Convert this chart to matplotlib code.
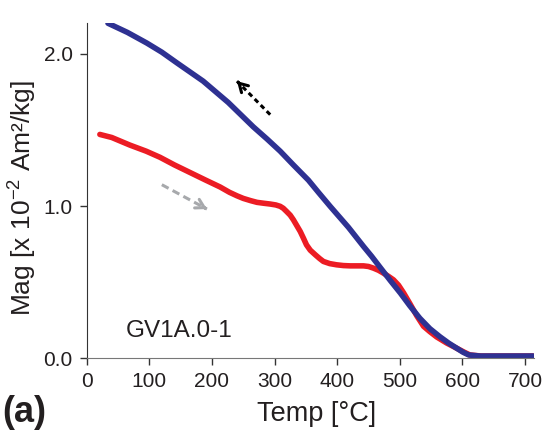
import numpy as np
import matplotlib
matplotlib.use('Agg')
import matplotlib.pyplot as plt

plt.rcParams['font.family'] = ['Liberation Sans', 'DejaVu Sans']
plt.rcParams['mathtext.fontset'] = 'custom'
plt.rcParams['mathtext.rm'] = 'Liberation Sans'
plt.rcParams['mathtext.it'] = 'Liberation Sans'

# heating curve (red)
temp_heat = [21, 40, 69, 95, 117, 140, 165, 190, 213, 228, 240, 250, 262, 272, 283,
             293, 302, 309, 314, 319, 325, 330, 335, 341, 346, 351, 357, 365, 372,
             378, 388, 399, 410, 421, 432, 442, 450, 458, 466, 474, 482, 490, 498,
             506, 516, 527, 538, 548, 559, 575, 591, 603, 612, 630, 660, 690, 713]
mag_heat = [1.47, 1.45, 1.40, 1.36, 1.32, 1.27, 1.22, 1.17, 1.125, 1.09, 1.067, 1.05,
            1.035, 1.024, 1.018, 1.013, 1.007, 0.998, 0.985, 0.965, 0.94, 0.91, 0.875,
            0.833, 0.79, 0.745, 0.71, 0.68, 0.655, 0.636, 0.622, 0.614, 0.609, 0.607,
            0.607, 0.607, 0.603, 0.592, 0.578, 0.559, 0.538, 0.515, 0.48, 0.43, 0.36,
            0.28, 0.21, 0.175, 0.14, 0.10, 0.066, 0.04, 0.022, 0.015, 0.015, 0.015,
            0.015]

# cooling curve (blue)
temp_cool = [34, 65, 96, 120, 144, 165, 186, 206, 226, 246, 266, 288, 309, 330, 354,
             370, 389, 400, 418, 442, 455, 469, 485, 501, 516, 532, 548, 564, 578,
             591, 601, 610, 628, 660, 690, 713]
mag_cool = [2.20, 2.14, 2.07, 2.01, 1.94, 1.88, 1.82, 1.75, 1.68, 1.60, 1.52, 1.44,
            1.36, 1.27, 1.17, 1.09, 0.997, 0.945, 0.86, 0.735, 0.67, 0.595, 0.51,
            0.428, 0.345, 0.263, 0.195, 0.142, 0.10, 0.066, 0.04, 0.022, 0.015,
            0.015, 0.015, 0.015]

x_ticks = [0, 100, 200, 300, 400, 500, 600, 700]
y_ticks = [0.0, 1.0, 2.0]

# direction arrows (tail, head)
cool_arrow = ((293, 1.60), (240, 1.82))
heat_arrow = ((120, 1.14), (192, 0.98))

fig = plt.figure(figsize=(5.47, 4.34), dpi=100)
ax = fig.add_axes([0.1585, 0.1744, 0.8185, 0.772])

ax.plot(temp_heat, mag_heat, color='#ec1c24', lw=4.0, solid_capstyle='round',
        solid_joinstyle='round')
ax.plot(temp_cool, mag_cool, color='#2e3192', lw=4.0, solid_capstyle='round',
        solid_joinstyle='round')

def draw_arrow(tail, head, color, dashes):
    (x0, y0), (x1, y1) = tail, head
    ax.plot([x0, x1], [y0, y1], color=color, lw=2.2, dashes=dashes)
    ax.annotate('', xy=(x1, y1), xytext=(x1 + (x0 - x1) * 0.05, y1 + (y0 - y1) * 0.05),
                arrowprops=dict(arrowstyle='->,head_length=0.6,head_width=0.35',
                                color=color, lw=2.2))

draw_arrow(*cool_arrow, color='black', dashes=(1.6, 1.2))
draw_arrow(*heat_arrow, color='#a7a9ac', dashes=(2.5, 1.5))

ax.set_xlim(0, 715)
ax.set_ylim(0, 2.2)
ax.set_xticks(x_ticks)
ax.set_yticks(y_ticks)
ax.yaxis.set_major_formatter(matplotlib.ticker.FormatStrFormatter('%.1f'))
for s in ['top', 'right']:
    ax.spines[s].set_visible(False)
ax.spines['left'].set_color('#333333')
ax.spines['bottom'].set_color('#777777')
ax.tick_params(direction='out', length=5, width=1, colors='#333333',
               labelsize=15, labelcolor='#231f20', pad=5)

ax.set_xlabel('Temp [°C]', fontsize=19.5, color='#231f20')
ax.xaxis.set_label_coords(0.514, -0.128)
ax.set_ylabel('Mag [x 10$^{-2}$ Am²/kg]', fontsize=19, color='#231f20')
ax.yaxis.set_label_coords(-0.107, 0.48)

ax.text(147, 0.18, 'GV1A.0-1', fontsize=17.5, color='#231f20', ha='center', va='center')
fig.text(0.004, 0.05, '(a)', fontsize=26, fontweight='bold', color='#231f20',
         ha='left', va='center')

fig.savefig('out.png', dpi=100)
